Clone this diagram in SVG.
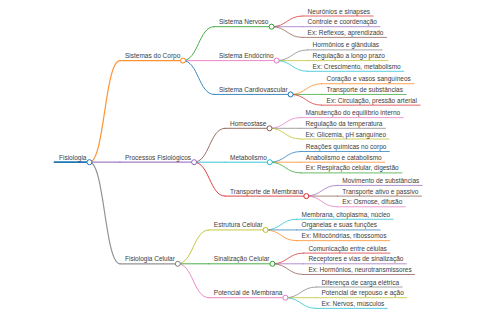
<svg xmlns="http://www.w3.org/2000/svg" width="480" height="320" viewBox="0 0 480 320">
<style>
text{font-family:"Liberation Sans",Arial,sans-serif;font-size:6.5px;fill:#3c3c3c}
path,line{fill:none;stroke-linecap:round;stroke-opacity:0.85}
.d0{stroke-width:1.8;stroke-opacity:1}
.d1{stroke-width:1.2}
.d2{stroke-width:1}
.d3{stroke-width:0.85}
circle{fill:#fff;stroke-width:1}
.c0{stroke:#1f77b4}.c1{stroke:#ff7f0e}.c2{stroke:#2ca02c}.c3{stroke:#d62728}.c4{stroke:#9467bd}
.c5{stroke:#8c564b}.c6{stroke:#e377c2}.c7{stroke:#7f7f7f}.c8{stroke:#bcbd22}.c9{stroke:#17becf}
</style>
<rect width="480" height="320" fill="#fff"/>
<g id="connectors">
<path class="d1 c1" d="M89.4 162.2C104.7 162.2 104.7 60.6 120 60.6"/>
<path class="d1 c4" d="M89.4 162.2L120 162.2"/>
<path class="d1 c7" d="M89.4 162.2C104.7 162.2 104.7 263.8 120 263.8"/>
<path class="d2 c2" d="M183 60.6C198.5 60.6 198.5 26.7 214 26.7"/>
<path class="d2 c6" d="M183 60.6L214 60.6"/>
<path class="d2 c0" d="M183 60.6C198.5 60.6 198.5 94.45 214 94.45"/>
<path class="d3 c3" d="M271.6 26.7C287.1 26.7 287.1 16 302.6 16"/>
<path class="d3 c4" d="M271.6 26.7L302.6 26.7"/>
<path class="d3 c5" d="M271.6 26.7C287.1 26.7 287.1 37.4 302.6 37.4"/>
<path class="d3 c7" d="M276.6 60.6C292.1 60.6 292.1 49.9 307.6 49.9"/>
<path class="d3 c8" d="M276.6 60.6L307.6 60.6"/>
<path class="d3 c9" d="M276.6 60.6C292.1 60.6 292.1 71.3 307.6 71.3"/>
<path class="d3 c1" d="M290.6 94.45C306.1 94.45 306.1 83.75 321.6 83.75"/>
<path class="d3 c2" d="M290.6 94.45L321.6 94.45"/>
<path class="d3 c3" d="M290.6 94.45C306.1 94.45 306.1 105.15 321.6 105.15"/>
<path class="d2 c5" d="M194.1 162.2C209.55 162.2 209.55 128.3 225 128.3"/>
<path class="d2 c9" d="M194.1 162.2L225 162.2"/>
<path class="d2 c3" d="M194.1 162.2C209.55 162.2 209.55 196.1 225 196.1"/>
<path class="d3 c6" d="M269.5 128.3C285 128.3 285 117.6 300.5 117.6"/>
<path class="d3 c7" d="M269.5 128.3L300.5 128.3"/>
<path class="d3 c8" d="M269.5 128.3C285 128.3 285 139 300.5 139"/>
<path class="d3 c0" d="M269.8 162.2C285.3 162.2 285.3 151.5 300.8 151.5"/>
<path class="d3 c1" d="M269.8 162.2L300.8 162.2"/>
<path class="d3 c2" d="M269.8 162.2C285.3 162.2 285.3 172.9 300.8 172.9"/>
<path class="d3 c4" d="M306.3 196.1C321.8 196.1 321.8 185.4 337.3 185.4"/>
<path class="d3 c5" d="M306.3 196.1L337.3 196.1"/>
<path class="d3 c6" d="M306.3 196.1C321.8 196.1 321.8 206.8 337.3 206.8"/>
<path class="d2 c8" d="M177.8 263.8C193.3 263.8 193.3 229.95 208.8 229.95"/>
<path class="d2 c2" d="M177.8 263.8L208.8 263.8"/>
<path class="d2 c6" d="M177.8 263.8C193.3 263.8 193.3 297.7 208.8 297.7"/>
<path class="d3 c9" d="M265.6 229.95C281.1 229.95 281.1 219.25 296.6 219.25"/>
<path class="d3 c0" d="M265.6 229.95L296.6 229.95"/>
<path class="d3 c1" d="M265.6 229.95C281.1 229.95 281.1 240.65 296.6 240.65"/>
<path class="d3 c3" d="M272.4 263.8C287.9 263.8 287.9 253.1 303.4 253.1"/>
<path class="d3 c4" d="M272.4 263.8L303.4 263.8"/>
<path class="d3 c5" d="M272.4 263.8C287.9 263.8 287.9 274.5 303.4 274.5"/>
<path class="d3 c7" d="M285.4 297.7C300.9 297.7 300.9 287 316.4 287"/>
<path class="d3 c8" d="M285.4 297.7L316.4 297.7"/>
<path class="d3 c9" d="M285.4 297.7C300.9 297.7 300.9 308.4 316.4 308.4"/>
</g>
<g id="n-fisiologia"><line class="d0 c0" x1="54.5" y1="162.2" x2="89.4" y2="162.2"/><text x="59" y="159.7">Fisiologia</text></g>
<g id="n-sistemas"><line class="d1 c1" x1="120" y1="60.6" x2="183" y2="60.6"/><text x="125" y="58.1">Sistemas do Corpo</text></g>
<g id="n-nervoso"><line class="d2 c2" x1="214" y1="26.7" x2="271.6" y2="26.7"/><text x="219" y="24.2">Sistema Nervoso</text></g>
<g id="n-neur"><line class="d3 c3" x1="302.6" y1="16" x2="373.2" y2="16"/><text x="307.6" y="13.5">Neurônios e sinapses</text></g>
<g id="n-controle"><line class="d3 c4" x1="302.6" y1="26.7" x2="380" y2="26.7"/><text x="307.6" y="24.2">Controle e coordenação</text></g>
<g id="n-reflexos"><line class="d3 c5" x1="302.6" y1="37.4" x2="386.6" y2="37.4"/><text x="307.6" y="34.9">Ex: Reflexos, aprendizado</text></g>
<g id="n-endocrino"><line class="d2 c6" x1="214" y1="60.6" x2="276.6" y2="60.6"/><text x="219" y="58.1">Sistema Endócrino</text></g>
<g id="n-hormonios"><line class="d3 c7" x1="307.6" y1="49.9" x2="382.2" y2="49.9"/><text x="312.6" y="47.4">Hormônios e glândulas</text></g>
<g id="n-regulacao"><line class="d3 c8" x1="307.6" y1="60.6" x2="388" y2="60.6"/><text x="312.6" y="58.1">Regulação a longo prazo</text></g>
<g id="n-crescimento"><line class="d3 c9" x1="307.6" y1="71.3" x2="403.8" y2="71.3"/><text x="312.6" y="68.8">Ex: Crescimento, metabolismo</text></g>
<g id="n-cardio"><line class="d2 c0" x1="214" y1="94.45" x2="290.6" y2="94.45"/><text x="219" y="91.95">Sistema Cardiovascular</text></g>
<g id="n-coracao"><line class="d3 c1" x1="321.6" y1="83.75" x2="413.9" y2="83.75"/><text x="326.6" y="81.25">Coração e vasos sanguíneos</text></g>
<g id="n-transp-subst"><line class="d3 c2" x1="321.6" y1="94.45" x2="406.3" y2="94.45"/><text x="326.6" y="91.95">Transporte de substâncias</text></g>
<g id="n-circulacao"><line class="d3 c3" x1="321.6" y1="105.15" x2="420" y2="105.15"/><text x="326.6" y="102.65">Ex: Circulação, pressão arterial</text></g>
<g id="n-processos"><line class="d1 c4" x1="120" y1="162.2" x2="194.1" y2="162.2"/><text x="125" y="159.7">Processos Fisiológicos</text></g>
<g id="n-homeostase"><line class="d2 c5" x1="225" y1="128.3" x2="269.5" y2="128.3"/><text x="230" y="125.8">Homeostase</text></g>
<g id="n-manutencao"><line class="d3 c6" x1="300.5" y1="117.6" x2="403.2" y2="117.6"/><text x="305.5" y="115.1">Manutenção do equilíbrio interno</text></g>
<g id="n-temperatura"><line class="d3 c7" x1="300.5" y1="128.3" x2="385.5" y2="128.3"/><text x="305.5" y="125.8">Regulação da temperatura</text></g>
<g id="n-glicemia"><line class="d3 c8" x1="300.5" y1="139" x2="389.1" y2="139"/><text x="305.5" y="136.5">Ex: Glicemia, pH sanguíneo</text></g>
<g id="n-metabolismo"><line class="d2 c9" x1="225" y1="162.2" x2="269.8" y2="162.2"/><text x="230" y="159.7">Metabolismo</text></g>
<g id="n-reacoes"><line class="d3 c0" x1="300.8" y1="151.5" x2="389.4" y2="151.5"/><text x="305.8" y="149">Reações químicas no corpo</text></g>
<g id="n-anabolismo"><line class="d3 c1" x1="300.8" y1="162.2" x2="384.7" y2="162.2"/><text x="305.8" y="159.7">Anabolismo e catabolismo</text></g>
<g id="n-respiracao"><line class="d3 c2" x1="300.8" y1="172.9" x2="402" y2="172.9"/><text x="305.8" y="170.4">Ex: Respiração celular, digestão</text></g>
<g id="n-transporte"><line class="d2 c3" x1="225" y1="196.1" x2="306.3" y2="196.1"/><text x="230" y="193.6">Transporte de Membrana</text></g>
<g id="n-movimento"><line class="d3 c4" x1="337.3" y1="185.4" x2="422.2" y2="185.4"/><text x="342.3" y="182.9">Movimento de substâncias</text></g>
<g id="n-ativo"><line class="d3 c5" x1="337.3" y1="196.1" x2="421.5" y2="196.1"/><text x="342.3" y="193.6">Transporte ativo e passivo</text></g>
<g id="n-osmose"><line class="d3 c6" x1="337.3" y1="206.8" x2="405.3" y2="206.8"/><text x="342.3" y="204.3">Ex: Osmose, difusão</text></g>
<g id="n-celular"><line class="d1 c7" x1="120" y1="263.8" x2="177.8" y2="263.8"/><text x="125" y="261.3">Fisiologia Celular</text></g>
<g id="n-estrutura"><line class="d2 c8" x1="208.8" y1="229.95" x2="265.6" y2="229.95"/><text x="213.8" y="227.45">Estrutura Celular</text></g>
<g id="n-membrana"><line class="d3 c9" x1="296.6" y1="219.25" x2="393.1" y2="219.25"/><text x="301.6" y="216.75">Membrana, citoplasma, núcleo</text></g>
<g id="n-organelas"><line class="d3 c0" x1="296.6" y1="229.95" x2="380.1" y2="229.95"/><text x="301.6" y="227.45">Organelas e suas funções</text></g>
<g id="n-mitocondrias"><line class="d3 c1" x1="296.6" y1="240.65" x2="389.5" y2="240.65"/><text x="301.6" y="238.15">Ex: Mitocôndrias, ribossomos</text></g>
<g id="n-sinalizacao"><line class="d2 c2" x1="208.8" y1="263.8" x2="272.4" y2="263.8"/><text x="213.8" y="261.3">Sinalização Celular</text></g>
<g id="n-comunicacao"><line class="d3 c3" x1="303.4" y1="253.1" x2="389.8" y2="253.1"/><text x="308.4" y="250.6">Comunicação entre células</text></g>
<g id="n-receptores"><line class="d3 c4" x1="303.4" y1="263.8" x2="406.4" y2="263.8"/><text x="308.4" y="261.3">Receptores e vias de sinalização</text></g>
<g id="n-neurotrans"><line class="d3 c5" x1="303.4" y1="274.5" x2="414.7" y2="274.5"/><text x="308.4" y="272">Ex: Hormônios, neurotransmissores</text></g>
<g id="n-potencial"><line class="d2 c6" x1="208.8" y1="297.7" x2="285.4" y2="297.7"/><text x="213.8" y="295.2">Potencial de Membrana</text></g>
<g id="n-diferenca"><line class="d3 c7" x1="316.4" y1="287" x2="402.1" y2="287"/><text x="321.4" y="284.5">Diferença de carga elétrica</text></g>
<g id="n-repouso"><line class="d3 c8" x1="316.4" y1="297.7" x2="406.8" y2="297.7"/><text x="321.4" y="295.2">Potencial de repouso e ação</text></g>
<g id="n-nervos"><line class="d3 c9" x1="316.4" y1="308.4" x2="387.2" y2="308.4"/><text x="321.4" y="305.9">Ex: Nervos, músculos</text></g>
<g id="circles">
<circle class="c0" cx="89.4" cy="162.2" r="2.5"/>
<circle class="c1" cx="183" cy="60.6" r="2.5"/>
<circle class="c2" cx="271.6" cy="26.7" r="2.5"/>
<circle class="c6" cx="276.6" cy="60.6" r="2.5"/>
<circle class="c0" cx="290.6" cy="94.45" r="2.5"/>
<circle class="c4" cx="194.1" cy="162.2" r="2.5"/>
<circle class="c5" cx="269.5" cy="128.3" r="2.5"/>
<circle class="c9" cx="269.8" cy="162.2" r="2.5"/>
<circle class="c3" cx="306.3" cy="196.1" r="2.5"/>
<circle class="c7" cx="177.8" cy="263.8" r="2.5"/>
<circle class="c8" cx="265.6" cy="229.95" r="2.5"/>
<circle class="c2" cx="272.4" cy="263.8" r="2.5"/>
<circle class="c6" cx="285.4" cy="297.7" r="2.5"/>
</g>
</svg>
